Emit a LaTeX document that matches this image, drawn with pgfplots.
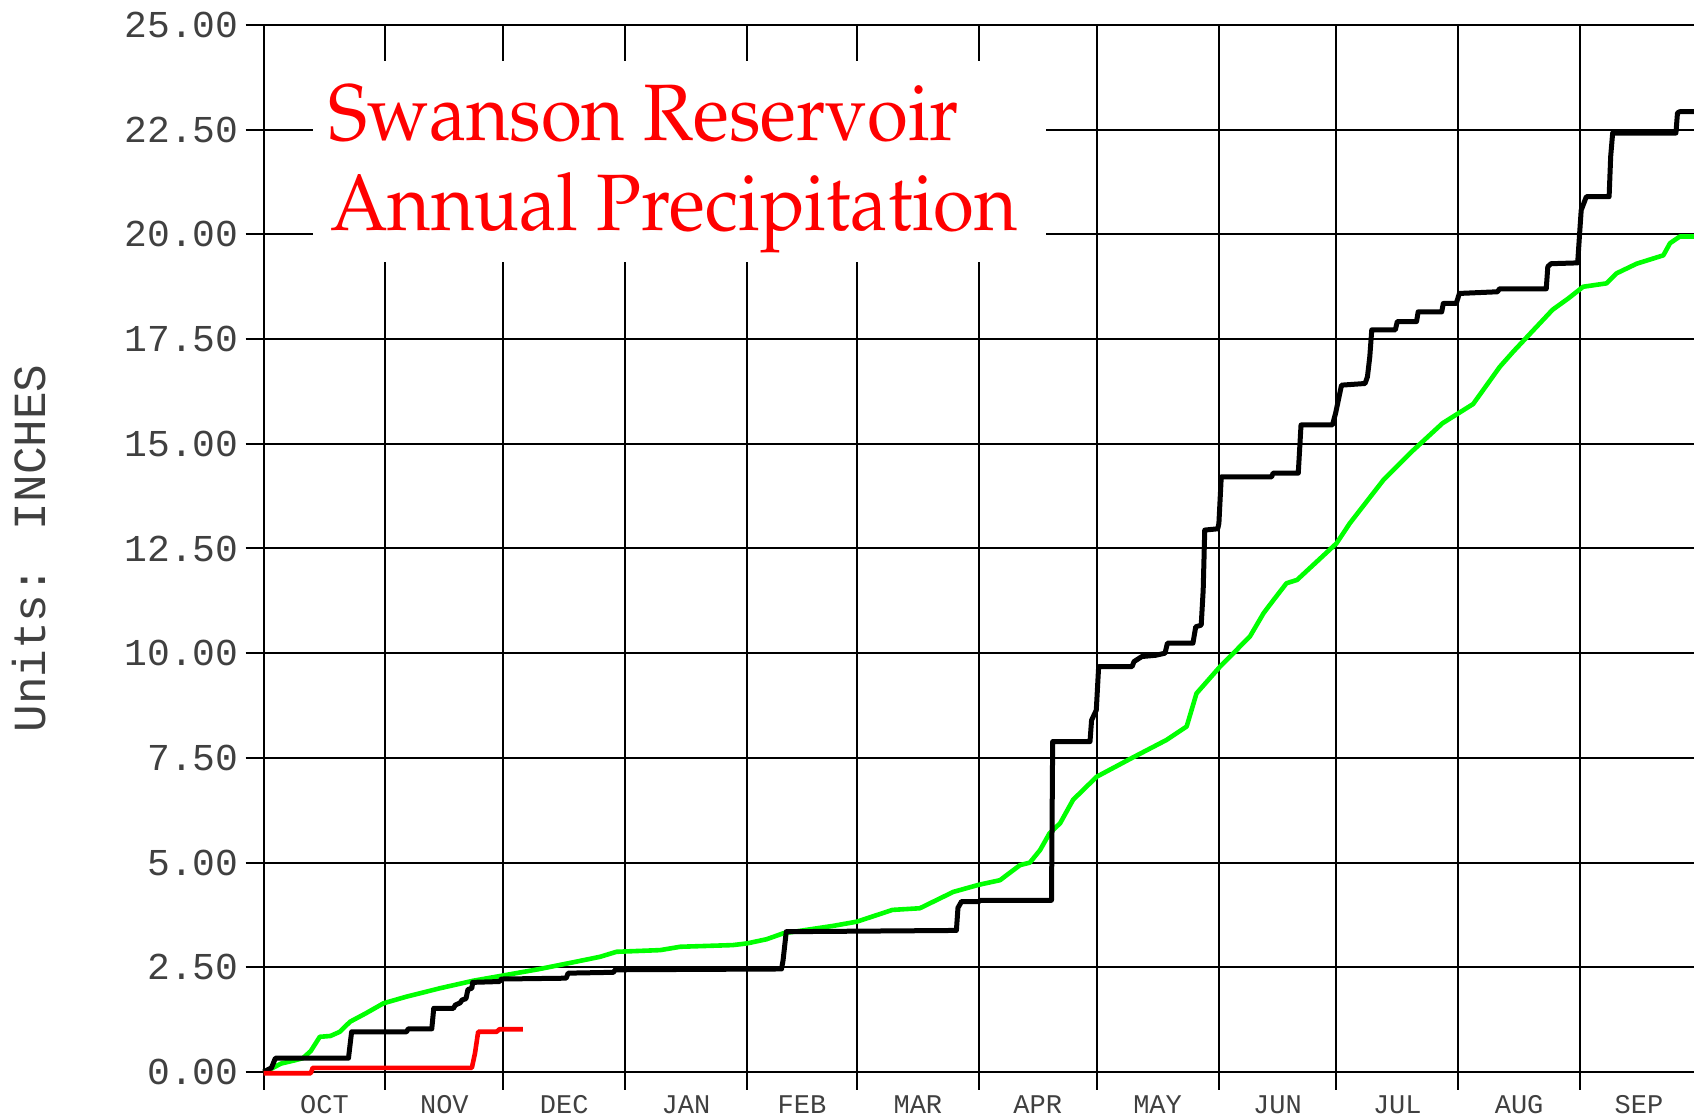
\documentclass[border=0pt]{standalone}
\usepackage[T1]{fontenc}
\usepackage{fontspec}
\usepackage{graphicx}
\usepackage{pgfplots}
\pgfplotsset{compat=1.18}
\newfontfamily\monofont{Liberation Mono}
\newcommand\titlefont{\fontencoding{T1}\fontfamily{ppl}\fontseries{m}\fontshape{n}\fontsize{40}{45}\selectfont}
\definecolor{pgreen}{RGB}{0,255,0}
\definecolor{pred}{RGB}{255,0,0}
\begin{document}
\begin{tikzpicture}
\begin{axis}[
  at={(0,0)}, anchor=south west,
  scale only axis, width=715.2pt, height=523.5pt,
  xmin=0, xmax=364, ymin=0, ymax=25,
  clip=false,
  axis x line*=bottom, axis y line*=left,
  axis line style={-, black, line width=1pt},
  xtick={0,31,61,92,123,151,182,212,243,273,304,335},
  xticklabels={},
  ytick={0,2.5,5,7.5,10,12.5,15,17.5,20,22.5,25},
  grid=major,
  major grid style={black, line width=1pt},
  tick align=outside,
  major tick length=9pt,
  tick style={black, line width=1pt},
  /pgf/number format/assume math mode=true,
  yticklabel style={font=\fontsize{19}{20}\monofont, text=black!75, /pgf/number format/.cd, fixed, fixed zerofill, precision=2},
  extra x ticks={15.5,46,76.5,107.5,137,166.5,197,227.5,258,288.5,319.5,350},
  extra x tick labels={OCT,NOV,DEC,JAN,FEB,MAR,APR,MAY,JUN,JUL,AUG,SEP},
  extra x tick style={major tick length=0pt, grid=none, tick style={draw=none}, xticklabel style={font=\fontsize{13.5}{15}\monofont, text=black!75, yshift=-8.3pt}},
  ylabel={Units: INCHES},
  ylabel style={at={(axis description cs:-0.164,0.5)}, anchor=center, font=\fontsize{23}{25}\monofont, text=black!75},
]
\fill[white] (axis cs:12.57,19.35) rectangle (axis cs:199,24.15);
\node[anchor=base west, inner sep=0pt, text=pred] at (axis cs:16.3,22.24) {\titlefont\scalebox{0.93}[1]{Swanson Reservoir}};
\node[anchor=base west, inner sep=0pt, text=pred] at (axis cs:16.8,20.1) {\titlefont\scalebox{0.93}[1]{Annual Precipitation}};
% normal (green)
\addplot[pgreen, line width=2.3pt, line join=round] coordinates {
(0,0) (2,0.08) (4.4,0.2) (8,0.28) (10,0.33) (12,0.5) (14.3,0.84) (17,0.86) (19.4,0.96) (22,1.2) (26,1.4) (30.5,1.64) (36.4,1.8) (44.9,2.0) (53.4,2.18) (61.9,2.32) (70.3,2.46) (78.8,2.62) (85.6,2.75) (89.8,2.87) (100.9,2.91) (106,2.99) (119.4,3.03) (123,3.07) (128,3.17) (132.2,3.31) (145,3.49) (151,3.59) (160,3.87) (167,3.91) (175.5,4.3) (182,4.47) (187.4,4.58) (192.5,4.94) (195,5.0) (197.6,5.3) (200,5.7) (202.7,5.94) (206,6.5) (212,7.05) (221,7.5) (229.8,7.93) (234.9,8.25) (237.4,9.04) (243.4,9.68) (251,10.4) (254.5,10.96) (257,11.27) (260.3,11.67) (263,11.75) (273,12.62) (276.4,13.1) (285,14.14) (292.6,14.85) (300,15.49) (307.8,15.95) (314.6,16.84) (318,17.2) (322,17.6) (325,17.9) (328,18.2) (332,18.47) (335.8,18.75) (341.7,18.83) (344.3,19.07) (349.4,19.3) (356.2,19.5) (357.9,19.79) (360.4,19.95) (364,19.95)
};
% last year (black)
\addplot[black, line width=2.5pt, line join=round] coordinates {
(0,0) (2,0.1) (3,0.33) (21.6,0.33) (22.4,0.96) (36.4,0.96) (36.8,1.03) (42.8,1.03) (43.3,1.52) (48.3,1.52) (48.8,1.6) (50,1.65) (50.5,1.72) (51.5,1.75) (52,1.97) (53,2.0) (53.2,2.14) (60,2.16) (60.5,2.22) (77,2.24) (77.5,2.36) (89,2.38) (89.5,2.44) (131.8,2.46) (132.2,2.67) (133,3.35) (176.3,3.38) (176.7,3.92) (177.6,4.07) (182,4.07) (182.5,4.1) (200.5,4.1) (200.8,7.89) (210.3,7.89) (210.7,8.4) (211.9,8.64) (212.5,9.68) (221,9.68) (221.5,9.8) (223.5,9.92) (227,9.95) (229.4,10.0) (230,10.24) (236.5,10.24) (237.2,10.63) (238.6,10.67) (239.1,11.5) (239.5,12.94) (242.8,12.97) (243.1,13.1) (243.7,14.21) (256.5,14.21) (256.9,14.3) (263.3,14.3) (264,15.45) (272,15.45) (272.8,15.73) (274.3,16.4) (280.3,16.44) (280.9,16.6) (281.5,17.08) (282,17.72) (288,17.72) (288.5,17.92) (293.4,17.92) (293.8,18.15) (299.8,18.15) (300.2,18.35) (303.5,18.35) (304.3,18.59) (314,18.63) (314.5,18.7) (326.4,18.7) (326.8,19.23) (327.6,19.3) (334.4,19.32) (334.9,20.03) (335.3,20.58) (336.6,20.9) (342.4,20.9) (342.8,21.86) (343.3,22.42) (359.4,22.42) (359.8,22.9) (360.4,22.93) (364,22.93)
};
% current year (red)
\addplot[pred, line width=2.3pt, line join=round] coordinates {
(0,-0.03) (12,-0.03) (12.5,0.1) (53,0.1) (53.8,0.45) (54.6,0.96) (59.3,0.96) (60,1.02) (66,1.02)
};
\end{axis}
\pgfresetboundingbox
\path[use as bounding box] (-131.8pt,-23.5pt) rectangle (715.2pt,536pt);
\end{tikzpicture}
\end{document}
